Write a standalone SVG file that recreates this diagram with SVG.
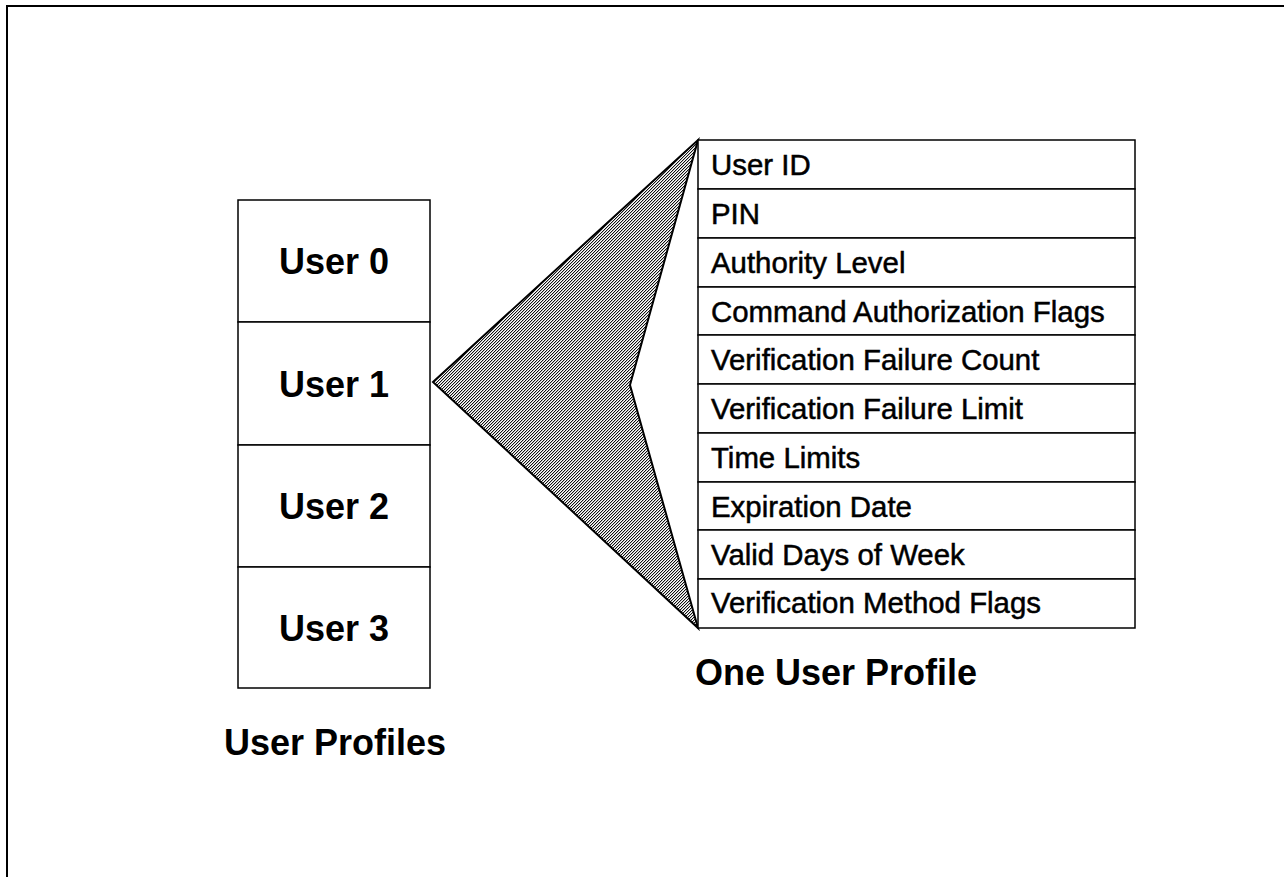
<svg xmlns="http://www.w3.org/2000/svg" width="1284" height="877" viewBox="0 0 1284 877">
  <style>
    .cell { fill: #fff; stroke: #000; stroke-width: 1.5; }
    .big { font-family: "Liberation Sans", Arial, sans-serif; font-weight: bold; font-size: 36px; fill: #000; }
    .field { font-family: "Liberation Sans", Arial, sans-serif; font-size: 29.4px; fill: #000; stroke: #000; stroke-width: 0.5px; }
  </style>
  <defs>
    <!-- fine diagonal dither used for the wedge fill -->
    <pattern id="hatch" width="3" height="3" patternUnits="userSpaceOnUse">
      <g shape-rendering="crispEdges">
        <rect width="3" height="3" fill="#fff"/>
        <rect x="0" y="2" width="1" height="1" fill="#111"/>
        <rect x="1" y="1" width="1" height="1" fill="#111"/>
        <rect x="2" y="0" width="1" height="1" fill="#111"/>
        <rect x="1" y="2" width="1" height="1" fill="#bbb"/>
        <rect x="2" y="1" width="1" height="1" fill="#bbb"/>
        <rect x="0" y="0" width="1" height="1" fill="#bbb"/>
      </g>
    </pattern>
  </defs>

  <rect width="1284" height="877" fill="#fff"/>
  <!-- page frame -->
  <rect x="7" y="6" width="1320" height="920" fill="none" stroke="#000" stroke-width="2"/>

  <!-- expansion wedge from User 1 to the profile fields -->
  <g id="connectors">
    <polygon points="433,382 698,140 630,385 698,628" fill="url(#hatch)" stroke="#000" stroke-width="2" stroke-linejoin="miter"/>
  </g>

  <!-- user profile stack -->
  <g id="user0"><rect class="cell" x="238" y="200" width="192" height="122"/><text class="big" x="334" y="274" text-anchor="middle">User 0</text></g>
  <g id="user1"><rect class="cell" x="238" y="322" width="192" height="123"/><text class="big" x="334" y="397" text-anchor="middle">User 1</text></g>
  <g id="user2"><rect class="cell" x="238" y="445" width="192" height="122"/><text class="big" x="334" y="519" text-anchor="middle">User 2</text></g>
  <g id="user3"><rect class="cell" x="238" y="567" width="192" height="121"/><text class="big" x="334" y="641" text-anchor="middle">User 3</text></g>
  <g id="label-user-profiles"><text class="big" x="335" y="755" text-anchor="middle">User Profiles</text></g>

  <!-- one user profile: field table -->
  <g id="field-user-id"><rect class="cell" x="698" y="140" width="437" height="49"/><text class="field" x="711" y="175">User ID</text></g>
  <g id="field-pin"><rect class="cell" x="698" y="189" width="437" height="49"/><text class="field" x="711" y="224">PIN</text></g>
  <g id="field-authority"><rect class="cell" x="698" y="238" width="437" height="49"/><text class="field" x="711" y="273">Authority Level</text></g>
  <g id="field-cmd-flags"><rect class="cell" x="698" y="287" width="437" height="48"/><text class="field" x="711" y="322">Command Authorization Flags</text></g>
  <g id="field-fail-count"><rect class="cell" x="698" y="335" width="437" height="49"/><text class="field" x="711" y="370">Verification Failure Count</text></g>
  <g id="field-fail-limit"><rect class="cell" x="698" y="384" width="437" height="49"/><text class="field" x="711" y="419">Verification Failure Limit</text></g>
  <g id="field-time"><rect class="cell" x="698" y="433" width="437" height="49"/><text class="field" x="711" y="468">Time Limits</text></g>
  <g id="field-expiration"><rect class="cell" x="698" y="482" width="437" height="48"/><text class="field" x="711" y="517">Expiration Date</text></g>
  <g id="field-days"><rect class="cell" x="698" y="530" width="437" height="49"/><text class="field" x="711" y="565">Valid Days of Week</text></g>
  <g id="field-method"><rect class="cell" x="698" y="579" width="437" height="49"/><text class="field" x="711" y="613">Verification Method Flags</text></g>
  <g id="label-one-profile"><text class="big" x="695" y="685">One User Profile</text></g>
</svg>
